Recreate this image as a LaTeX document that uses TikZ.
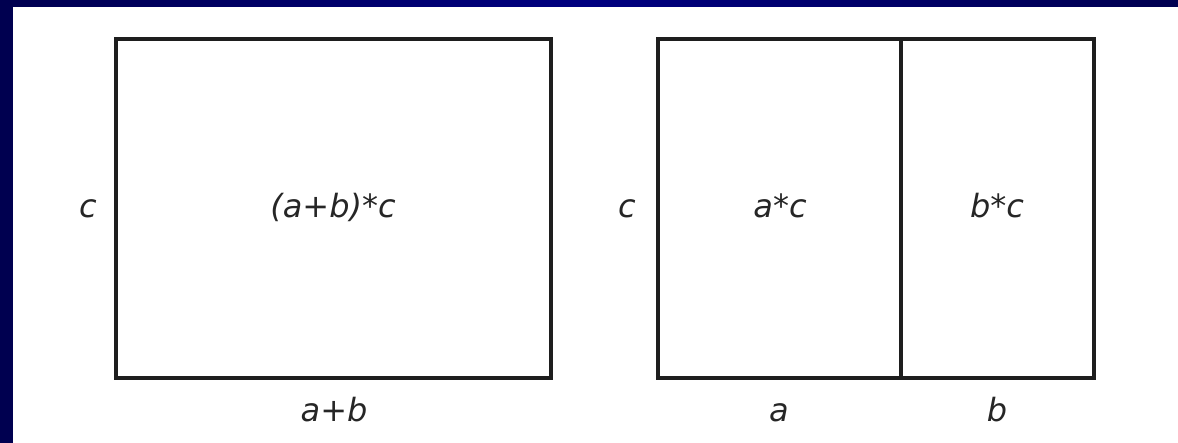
\documentclass[tikz,border=0pt]{standalone}
\usepackage{fontspec}
\newfontfamily\dejaobl{DejaVu Sans}[ItalicFont={DejaVu Sans Oblique}]
\definecolor{navyA}{HTML}{000050}
\definecolor{navyB}{HTML}{000080}
\definecolor{linec}{HTML}{1E1E1E}
\definecolor{textc}{HTML}{262626}
\begin{document}
\begin{tikzpicture}[x=0.5pt,y=-0.5pt,
  boxline/.style={draw=linec,line width=2pt},
  lbl/.style={text=textc,font=\dejaobl\fontsize{16}{19}\selectfont\itshape,anchor=base,inner sep=0pt}]
\useasboundingbox (0,0) rectangle (1178,443);
\fill[white] (0,0) rectangle (1178,443);
% navy frame (top and left)
\shade[left color=navyA,right color=navyA,middle color=navyB] (0,0) rectangle (1178,7);
\fill[navyA] (0,0) rectangle (13,443);
% left rectangle
\coordinate (L1) at (116,39);
\coordinate (L2) at (551,378);
\draw[boxline] (L1) rectangle (L2);
% right rectangle
\coordinate (R1) at (658,39);
\coordinate (R2) at (1094,378);
\coordinate (Dt) at (901,39);
\coordinate (Db) at (901,378);
\draw[boxline] (R1) rectangle (R2);
\draw[boxline] (Dt) -- (Db);
% labels
\node[lbl] (cl) at (88,218) {c};
\node[lbl] (abc) at (333,218) {(a+b)*c};
\node[lbl] (ab) at (334,421) {a+b};
\node[lbl] (cr) at (627,218) {c};
\node[lbl] (ac) at (780,218) {a*c};
\node[lbl] (bc) at (997,218) {b*c};
\node[lbl] (a) at (779,421) {a};
\node[lbl] (b) at (997,421) {b};
\end{tikzpicture}
\end{document}
